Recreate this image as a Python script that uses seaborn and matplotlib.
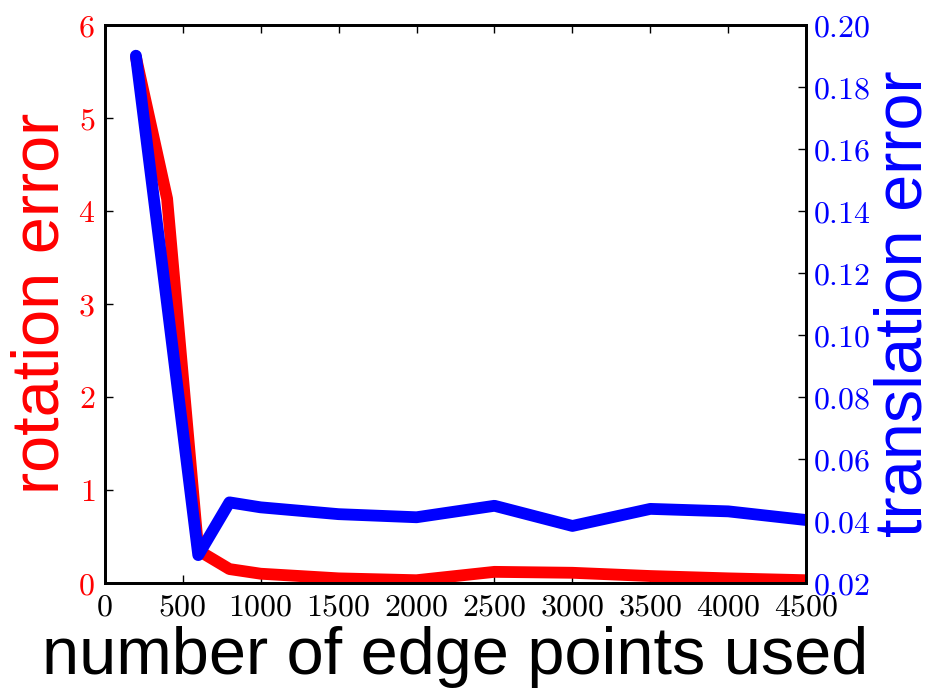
import matplotlib
matplotlib.use("Agg")
import matplotlib.pyplot as plt
from matplotlib.ticker import FuncFormatter
import seaborn as sns
import pandas as pd

# Number of edge points used in the alignment
edge_points = [200, 400, 600, 800, 1000, 1500, 2000, 2500, 3000, 3500, 4000, 4500]
# Mean rotation error (left axis)
rotation_error = [5.65, 4.13, 0.35, 0.15, 0.10, 0.05, 0.03, 0.12, 0.11, 0.075, 0.05, 0.03]
# Mean translation error (right axis)
translation_error = [0.190, 0.110, 0.029, 0.046, 0.0444, 0.0422, 0.0412,
                     0.0449, 0.0384, 0.0439, 0.0431, 0.0403]

x_ticks = [0, 500, 1000, 1500, 2000, 2500, 3000, 3500, 4000, 4500]
rot_ticks = [0, 1, 2, 3, 4, 5, 6]
trans_ticks = [0.02, 0.04, 0.06, 0.08, 0.10, 0.12, 0.14, 0.16, 0.18, 0.20]

df = pd.DataFrame({"points": edge_points,
                   "rotation": rotation_error,
                   "translation": translation_error})

sns.set_style("ticks")
plt.rcParams["font.family"] = ["Liberation Sans", "DejaVu Sans"]
plt.rcParams["mathtext.fontset"] = "cm"
plt.rcParams["text.color"] = "black"
plt.rcParams["axes.labelcolor"] = "black"

fig = plt.figure(figsize=(9.31, 6.93), dpi=100)
ax = fig.add_axes([0.1125, 0.1587, 0.7535, 0.8057])
ax2 = ax.twinx()

sns.lineplot(data=df, x="points", y="rotation", ax=ax, color="#ff0000",
             linewidth=8.5, legend=False)
sns.lineplot(data=df, x="points", y="translation", ax=ax2, color="#0000ff",
             linewidth=8.5, legend=False)

ax.set_xlim(0, 4500)
ax.set_ylim(0, 6)
ax2.set_ylim(0.02, 0.20)
ax.set_xticks(x_ticks)
ax.set_yticks(rot_ticks)
ax2.set_yticks(trans_ticks)

ax.xaxis.set_major_formatter(FuncFormatter(lambda v, p: f"${int(v)}$"))
ax.yaxis.set_major_formatter(FuncFormatter(lambda v, p: f"${int(v)}$"))
ax2.yaxis.set_major_formatter(FuncFormatter(lambda v, p: f"${v:.2f}$"))

for a in (ax, ax2):
    for s in a.spines.values():
        s.set_visible(True)
        s.set_color("black")
        s.set_linewidth(2)

ax.tick_params(axis="x", direction="in", length=6, width=1, top=True,
               labelsize=23, pad=7, color="black", labelcolor="black")
ax.tick_params(axis="y", direction="in", length=6, width=1, left=True,
               right=False, labelsize=23, pad=7, color="black",
               labelcolor="#ff0000")
ax2.tick_params(axis="y", direction="in", length=6, width=1, right=True,
                labelsize=23, pad=5, color="black", labelcolor="#0000ff")

ax.set_xlabel("number of edge points used", fontsize=48, color="black",
              labelpad=2)
ax.set_ylabel("rotation error", fontsize=48, color="#ff0000", labelpad=4)
ax2.set_ylabel("translation error", fontsize=48, color="#0000ff", labelpad=2)

fig.savefig("out.png", dpi=100)
